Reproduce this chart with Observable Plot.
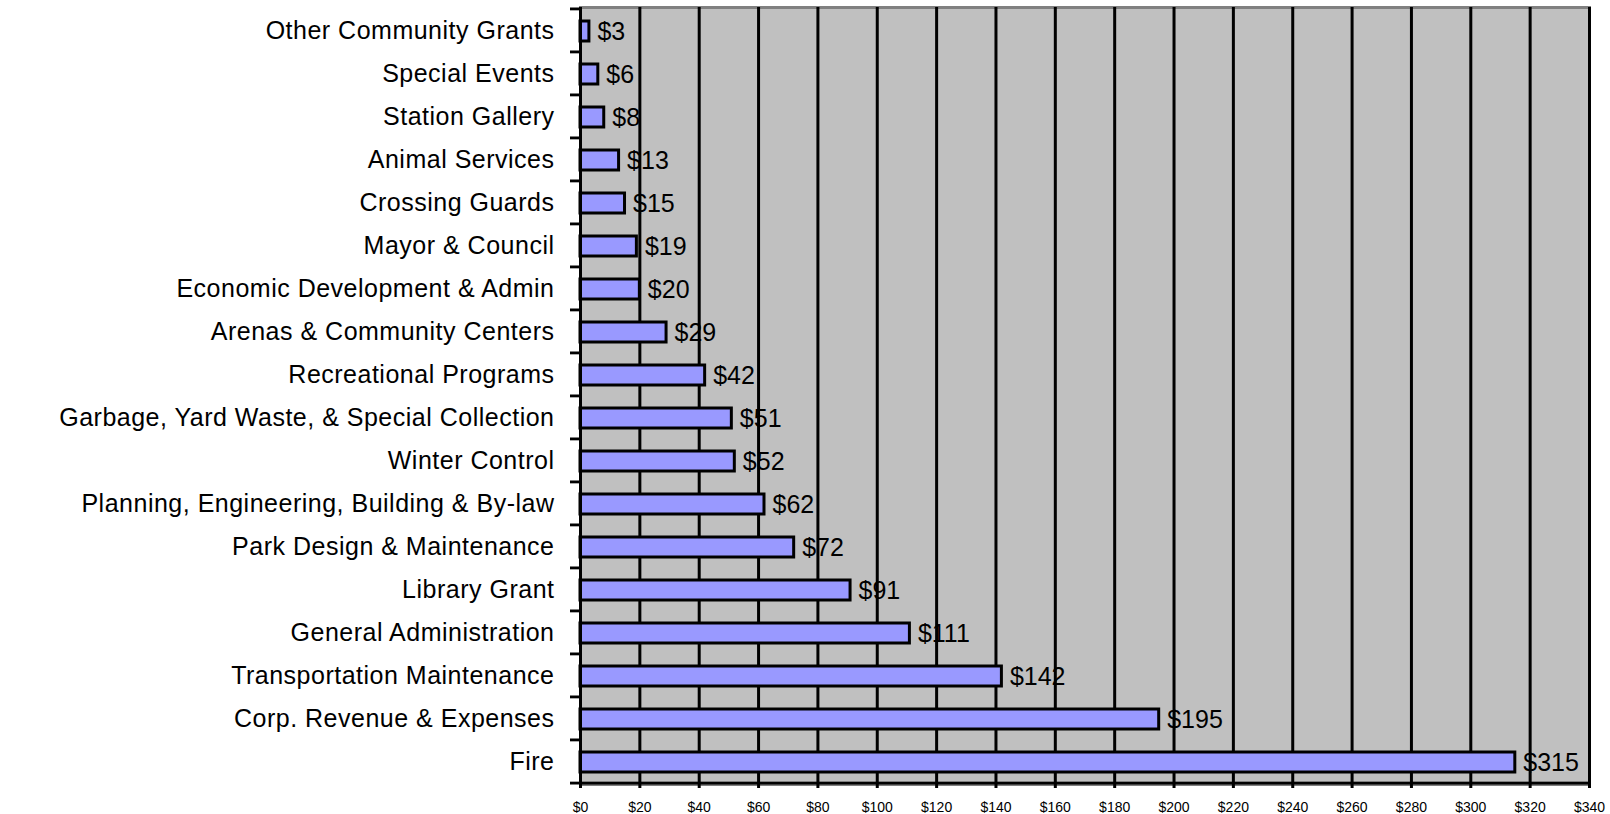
<!DOCTYPE html>
<html>
<head>
<meta charset="utf-8">
<script src="https://cdn.jsdelivr.net/npm/d3@7"></script>
<script src="https://cdn.jsdelivr.net/npm/@observablehq/plot@0.6"></script>
<style>
  html, body { margin: 0; padding: 0; background: #ffffff; }
  #chart svg { display: block; }
  #chart g[aria-label="y-axis tick label"] text { letter-spacing: 0.5px; }
</style>
</head>
<body>
<div id="chart"></div>
<script>
const categories = [
  "Other Community Grants",
  "Special Events",
  "Station Gallery",
  "Animal Services",
  "Crossing Guards",
  "Mayor & Council",
  "Economic Development & Admin",
  "Arenas & Community Centers",
  "Recreational Programs",
  "Garbage, Yard Waste, & Special Collection",
  "Winter Control",
  "Planning, Engineering, Building & By-law",
  "Park Design & Maintenance",
  "Library Grant",
  "General Administration",
  "Transportation Maintenance",
  "Corp. Revenue & Expenses",
  "Fire"
];
const values = [3, 6, 8, 13, 15, 19, 20, 29, 42, 51, 52, 62, 72, 91, 111, 142, 195, 315];
const xTicks = [0, 20, 40, 60, 80, 100, 120, 140, 160, 180, 200, 220, 240, 260, 280, 300, 320, 340];

const data = categories.map((name, i) => ({name, value: values[i]}));

const W = 1610, H = 814;
const mTop = 7, mBottom = 30, mLeft = 580, mRight = 21;
const step = (H - mTop - mBottom) / categories.length;
const pxPerUnit = (W - mLeft - mRight) / 340;
const tickUnits = 10 / pxPerUnit;
const fmt = d => "$" + d;

const chart = Plot.plot({
  width: W,
  height: H,
  marginTop: mTop,
  marginBottom: mBottom,
  marginLeft: mLeft,
  marginRight: mRight,
  style: {fontFamily: "'Liberation Sans', Arial, sans-serif", background: "#ffffff", color: "#000000"},
  x: {domain: [0, 340], label: null},
  y: {domain: categories, padding: 0, label: null},
  marks: [
    Plot.frame({fill: "#c0c0c0", stroke: "#808080", strokeWidth: 3}),
    Plot.ruleX(xTicks, {stroke: "#000000", strokeWidth: 3}),
    Plot.barX(data, {
      x: "value", y: "name",
      fill: "#9999ff", stroke: "#000000", strokeWidth: 3,
      insetTop: 12, insetBottom: 11
    }),
    Plot.text(data, {
      x: "value", y: "name", text: d => fmt(d.value),
      dx: 8, dy: 1, textAnchor: "start", fontSize: 25, fill: "#000000"
    }),
    Plot.barX(categories, {
      y: d => d, x1: -tickUnits, x2: 0, fill: "#000000",
      insetTop: -1.5, insetBottom: step - 1.5
    }),
    Plot.barX([categories[categories.length - 1]], {
      y: d => d, x1: -tickUnits, x2: 340, fill: "#000000",
      insetTop: step - 1.5, insetBottom: -1.5
    }),
    Plot.ruleX([0], {stroke: "#000000", strokeWidth: 3}),
    Plot.axisY({tickSize: 0, tickPadding: 26, fontSize: 25}),
    Plot.axisX({ticks: xTicks, tickFormat: fmt, tickSize: 4, tickPadding: 14, fontSize: 14, strokeWidth: 3})
  ]
});

document.getElementById("chart").appendChild(chart);
</script>
</body>
</html>
